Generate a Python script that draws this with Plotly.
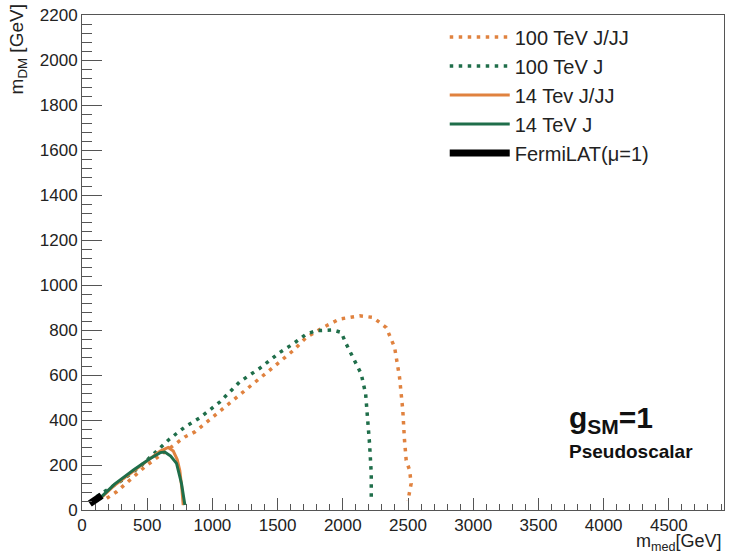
import plotly.graph_objects as go

# 100 TeV J/JJ (orange dotted)
x_100_jjj = [190, 265, 482, 725, 789, 865, 1005, 1159, 1312, 1465, 1618, 1720, 1848, 1976, 2129, 2231, 2333, 2397, 2435, 2460, 2473, 2486, 2512, 2524, 2499]
y_100_jjj = [52, 81, 192, 295, 325, 347, 413, 487, 561, 634, 708, 767, 811, 849, 863, 856, 811, 723, 590, 443, 310, 221, 177, 118, 40]

# 100 TeV J (green dotted)
x_100_j = [112, 300, 444, 582, 661, 725, 789, 904, 1057, 1210, 1363, 1516, 1618, 1720, 1797, 1924, 1988, 2026, 2090, 2141, 2175, 2192, 2205, 2218, 2218]
y_100_j = [59, 130, 192, 270, 310, 340, 369, 410, 480, 570, 630, 700, 738, 782, 797, 800, 789, 738, 664, 605, 516, 413, 295, 162, 44]

# 14 TeV J/JJ (orange solid)
x_14_jjj = [140, 250, 400, 520, 600, 661, 700, 730, 750, 765, 776]
y_14_jjj = [50, 110, 175, 225, 262, 278, 262, 225, 175, 100, 22]

# 14 TeV J (green solid)
x_14_j = [138, 250, 400, 520, 600, 635, 680, 725, 763, 780, 789]
y_14_j = [53, 115, 180, 228, 255, 258, 240, 207, 118, 60, 22]

# FermiLAT (mu=1)
x_fermi = [60, 90, 120, 150]
y_fermi = [28, 40, 53, 64]

ORANGE = "#E0823F"
GREEN = "#1F6E4A"

fig = go.Figure()
fig.add_trace(go.Scatter(x=x_100_jjj, y=y_100_jjj, mode="lines", name="100 TeV J/JJ",
                         line=dict(color=ORANGE, width=3.5, dash="3.5px,5.5px")))
fig.add_trace(go.Scatter(x=x_100_j, y=y_100_j, mode="lines", name="100 TeV J",
                         line=dict(color=GREEN, width=3.5, dash="3.5px,5.5px")))
fig.add_trace(go.Scatter(x=x_14_jjj, y=y_14_jjj, mode="lines", name="14 Tev J/JJ",
                         line=dict(color=ORANGE, width=3)))
fig.add_trace(go.Scatter(x=x_14_j, y=y_14_j, mode="lines", name="14 TeV J",
                         line=dict(color=GREEN, width=3)))
fig.add_trace(go.Scatter(x=x_fermi, y=y_fermi, mode="lines", name="FermiLAT(\u03bc=1)",
                         line=dict(color="black", width=7)))

FONT = "Liberation Sans, Arial, Helvetica, sans-serif"

fig.update_layout(
    width=731, height=555,
    margin=dict(l=82, r=6, t=13, b=45),
    paper_bgcolor="white", plot_bgcolor="white",
    font=dict(family=FONT, size=17, color="#222"),
    showlegend=True,
    legend=dict(x=0.565, y=0.995, xanchor="left", yanchor="top",
                bgcolor="rgba(255,255,255,0)", font=dict(size=20, color="#222"),
                tracegroupgap=0, itemwidth=60),
    xaxis=dict(range=[0, 4923], showgrid=False, zeroline=False,
               showline=True, linecolor="#555", linewidth=1, mirror=True,
               ticks="inside", ticklen=12, tickwidth=1, tickcolor="#555",
               tickvals=[0, 500, 1000, 1500, 2000, 2500, 3000, 3500, 4000, 4500],
               ticktext=["0", "500", "1000", "1500", "2000", "2500", "3000", "3500", "4000", "4500"],
               minor=dict(ticks="inside", ticklen=6, dtick=100, tickcolor="#555", showgrid=False),
               tickfont=dict(size=17, color="#222")),
    yaxis=dict(range=[0, 2200], showgrid=False, zeroline=False,
               showline=True, linecolor="#555", linewidth=1, mirror=True,
               ticks="inside", ticklen=20, tickwidth=1, tickcolor="#555",
               tickvals=[0, 200, 400, 600, 800, 1000, 1200, 1400, 1600, 1800, 2000, 2200],
               minor=dict(ticks="inside", ticklen=10, dtick=40, tickcolor="#555", showgrid=False),
               tickfont=dict(size=17, color="#222")),
    annotations=[
        dict(text="m<sub>DM</sub> [GeV]", xref="paper", yref="paper", x=-0.1, y=1.025,
             xanchor="center", yanchor="top", textangle=-90, showarrow=False,
             font=dict(size=19, color="#222")),
        dict(text="m<sub>med</sub>[GeV]", xref="paper", yref="paper", x=1.0, y=-0.038,
             xanchor="right", yanchor="top", showarrow=False,
             font=dict(size=18, color="#222")),
        dict(text="<b>g<sub>SM</sub>=1</b>", xref="paper", yref="paper", x=0.755, y=0.183,
             xanchor="left", yanchor="middle", showarrow=False,
             font=dict(size=30, color="#111")),
        dict(text="<b>Pseudoscalar</b>", xref="paper", yref="paper", x=0.755, y=0.118,
             xanchor="left", yanchor="middle", showarrow=False,
             font=dict(size=19, color="#111")),
    ],
)

fig.write_html("out.html", config={"displayModeBar": False},
               post_script="document.body.style.margin='0px';")
